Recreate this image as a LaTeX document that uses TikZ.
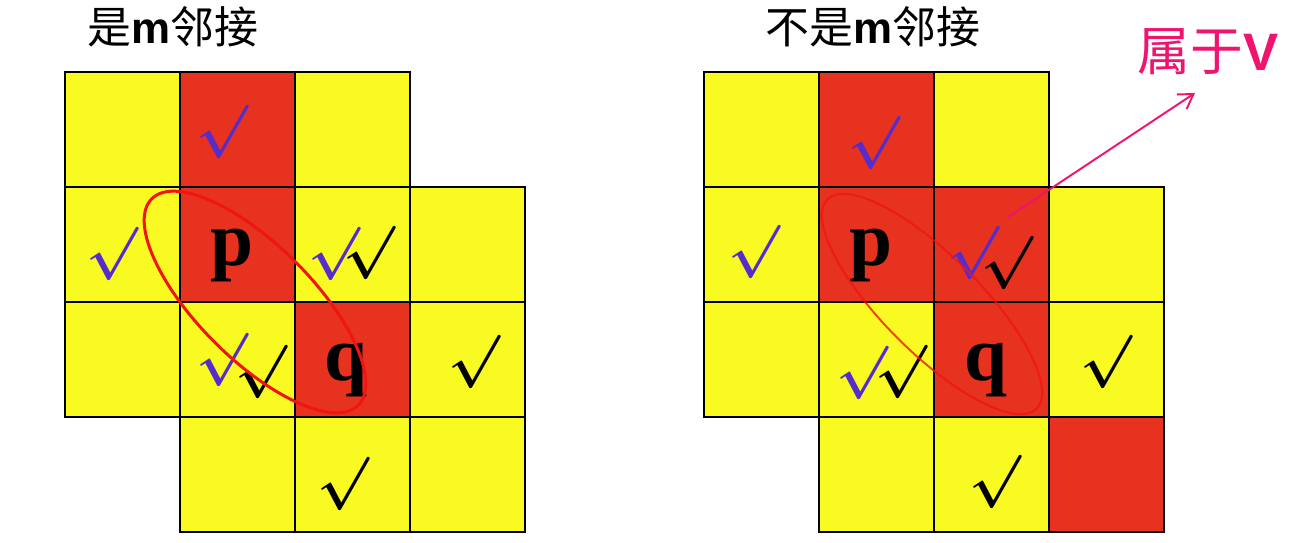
\documentclass[tikz,border=0pt]{standalone}
\usepackage{fontspec}
\setmainfont{Liberation Serif}
\setsansfont{Liberation Sans}
\newfontfamily\cjk{Noto Sans CJK SC}
\usetikzlibrary{arrows.meta}
\definecolor{cellyellow}{RGB}{250,250,35}
\definecolor{cellred}{RGB}{230,50,30}
\definecolor{chkblue}{RGB}{85,45,205}
\definecolor{vpink}{RGB}{240,20,110}
\definecolor{ringred}{RGB}{240,20,20}
\newcommand{\adjmark}{\scalebox{1.22}{\boldmath$\surd$}}

\begin{document}
\begin{tikzpicture}[x=0.02cm, y=0.02cm,
	cell/.style={draw=black, line width=0.9pt, minimum size=2.3cm, inner sep=0pt},
	pix/.style={font=\fontsize{44}{44}\selectfont\bfseries, inner sep=0pt},
	chk/.style={font=\fontsize{24.88}{30}\selectfont, inner sep=0pt},
	bchk/.style={chk, text=chkblue},
	title/.style={font=\cjk\fontsize{25}{25}\selectfont, inner sep=0pt},
	ring/.style={draw=ringred, line width=1.7pt}]
	\useasboundingbox (0,0) rectangle (1308,542);

	% left grid (m-adjacent)
	\foreach \r/\c/\f in {0/0/cellyellow,0/1/cellred,0/2/cellyellow,
		1/0/cellyellow,1/1/cellred,1/2/cellyellow,1/3/cellyellow,
		2/0/cellyellow,2/1/cellyellow,2/2/cellred,2/3/cellyellow,
		3/1/cellyellow,3/2/cellyellow,3/3/cellyellow}
		\node[cell, fill=\f] (L\r\c) at ({122.5+115*\c},{412.5-115*\r}) {};

	% right grid (not m-adjacent)
	\foreach \r/\c/\f in {0/0/cellyellow,0/1/cellred,0/2/cellyellow,
		1/0/cellyellow,1/1/cellred,1/2/cellred,1/3/cellyellow,
		2/0/cellyellow,2/1/cellyellow,2/2/cellred,2/3/cellyellow,
		3/1/cellyellow,3/2/cellyellow,3/3/cellred}
		\node[cell, fill=\f] (R\r\c) at ({761.5+115*\c},{412.5-115*\r}) {};

	\node[title] (tL) at (173,515) {是{\sffamily\bfseries m}邻接};
	\node[title] (tR) at (873,515) {不是{\sffamily\bfseries m}邻接};

	\node[pix] (pL) at (232,286) {p};
	\node[pix] (qL) at (346,172) {q};
	\node[pix] (pR) at (871,286) {p};
	\node[pix] (qR) at (986,172) {q};

	\node[bchk] (bL01) at (222,410) {\adjmark};
	\node[bchk] (bL10) at (112,288) {\adjmark};
	\node[bchk] (bL12) at (334,288) {\adjmark};
	\node[chk]  (kL12) at (369,289) {\adjmark};
	\node[bchk] (bL21) at (222,182) {\adjmark};
	\node[chk]  (kL21) at (261,170) {\adjmark};
	\node[chk]  (kL23) at (474,180) {\adjmark};
	\node[chk]  (kL32) at (343,58) {\adjmark};

	\node[bchk] (bR01) at (874,399) {\adjmark};
	\node[bchk] (bR10) at (754,290) {\adjmark};
	\node[bchk] (bR12) at (973,289) {\adjmark};
	\node[chk]  (kR12) at (1007,279) {\adjmark};
	\node[bchk] (bR21) at (862,169) {\adjmark};
	\node[chk]  (kR21) at (901,170) {\adjmark};
	\node[chk]  (kR23) at (1106,180) {\adjmark};
	\node[chk]  (kR32) at (995,60) {\adjmark};

	\draw[ring, rotate around={-45:(255,240)}] (255,240) ellipse [x radius=2.92cm, y radius=1.14cm];
	\draw[ring, line width=1.1pt, opacity=.8, rotate around={-45:(932,238)}] (932,238) ellipse [x radius=2.96cm, y radius=0.97cm];

	\node[title, text=vpink, font=\cjk\fontsize{30}{30}\selectfont] (vlabel) at (1208,490) {属于{\sffamily\bfseries V}};
	\coordinate (vtail) at (1008,325);
	\coordinate (vtip) at (1195,449);
	\draw[vpink, line width=1.1pt, -{Straight Barb[length=8pt, width=10pt]}] (vtail) -- (vtip);

\end{tikzpicture}
\end{document}
